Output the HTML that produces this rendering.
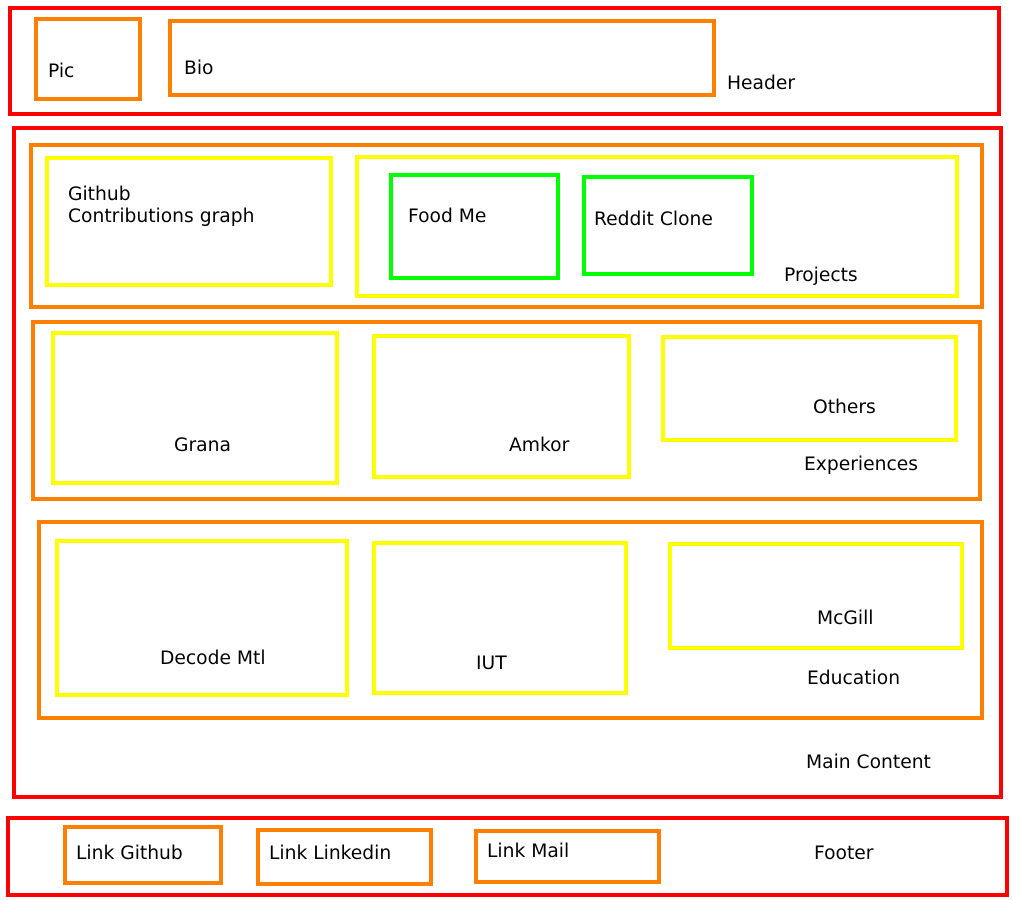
<!DOCTYPE html>
<html><head><meta charset="utf-8"><style>
body{margin:0;width:1013px;height:900px;background:#fff;position:relative;overflow:hidden;font-family:"DejaVu Sans","Liberation Sans",sans-serif}
.b{position:absolute;box-sizing:border-box;border:4px solid}
.r{border-color:#ff0000}.o{border-color:#ff8000}.y{border-color:#ffff00}.g{border-color:#00ff00}
.t{position:absolute;font-size:18.7px;line-height:22px;white-space:nowrap;color:#000;margin-top:2px}
</style></head><body>
<div class="b r" style="left:8px;top:6px;width:993px;height:110px"></div>
<div class="b o" style="left:34px;top:17px;width:108px;height:84px"></div>
<div class="b o" style="left:168px;top:19px;width:548px;height:78px"></div>
<div class="b r" style="left:12px;top:126px;width:991px;height:673px"></div>
<div class="b o" style="left:29px;top:143px;width:955px;height:166px"></div>
<div class="b y" style="left:45px;top:156px;width:288px;height:131px"></div>
<div class="b y" style="left:355px;top:155px;width:604px;height:143px"></div>
<div class="b g" style="left:389px;top:173px;width:171px;height:107px"></div>
<div class="b g" style="left:582px;top:175px;width:172px;height:101px"></div>
<div class="b o" style="left:31px;top:320px;width:951px;height:181px"></div>
<div class="b y" style="left:51px;top:331px;width:288px;height:154px"></div>
<div class="b y" style="left:372px;top:334px;width:259px;height:145px"></div>
<div class="b y" style="left:661px;top:335px;width:297px;height:107px"></div>
<div class="b o" style="left:37px;top:520px;width:947px;height:200px"></div>
<div class="b y" style="left:55px;top:539px;width:294px;height:158px"></div>
<div class="b y" style="left:372px;top:541px;width:256px;height:154px"></div>
<div class="b y" style="left:668px;top:542px;width:296px;height:108px"></div>
<div class="b r" style="left:6px;top:816px;width:1003px;height:81px"></div>
<div class="b o" style="left:63px;top:825px;width:160px;height:60px"></div>
<div class="b o" style="left:256px;top:828px;width:177px;height:58px"></div>
<div class="b o" style="left:474px;top:829px;width:187px;height:55px"></div>

<div class="t" style="left:48px;top:59px">Pic</div>
<div class="t" style="left:184px;top:56px">Bio</div>
<div class="t" style="left:727px;top:71px">Header</div>
<div class="t" style="left:68px;top:182px">Github</div>
<div class="t" style="left:68px;top:204px">Contributions graph</div>
<div class="t" style="left:408px;top:204px">Food Me</div>
<div class="t" style="left:594px;top:207px">Reddit Clone</div>
<div class="t" style="left:784px;top:263px">Projects</div>
<div class="t" style="left:174px;top:433px">Grana</div>
<div class="t" style="left:509px;top:433px">Amkor</div>
<div class="t" style="left:813px;top:395px">Others</div>
<div class="t" style="left:804px;top:452px">Experiences</div>
<div class="t" style="left:160px;top:646px">Decode Mtl</div>
<div class="t" style="left:476px;top:651px">IUT</div>
<div class="t" style="left:817px;top:606px">McGill</div>
<div class="t" style="left:807px;top:666px">Education</div>
<div class="t" style="left:806px;top:750px">Main Content</div>
<div class="t" style="left:76px;top:841px">Link Github</div>
<div class="t" style="left:269px;top:841px">Link Linkedin</div>
<div class="t" style="left:487px;top:839px">Link Mail</div>
<div class="t" style="left:814px;top:841px">Footer</div>
</body></html>
